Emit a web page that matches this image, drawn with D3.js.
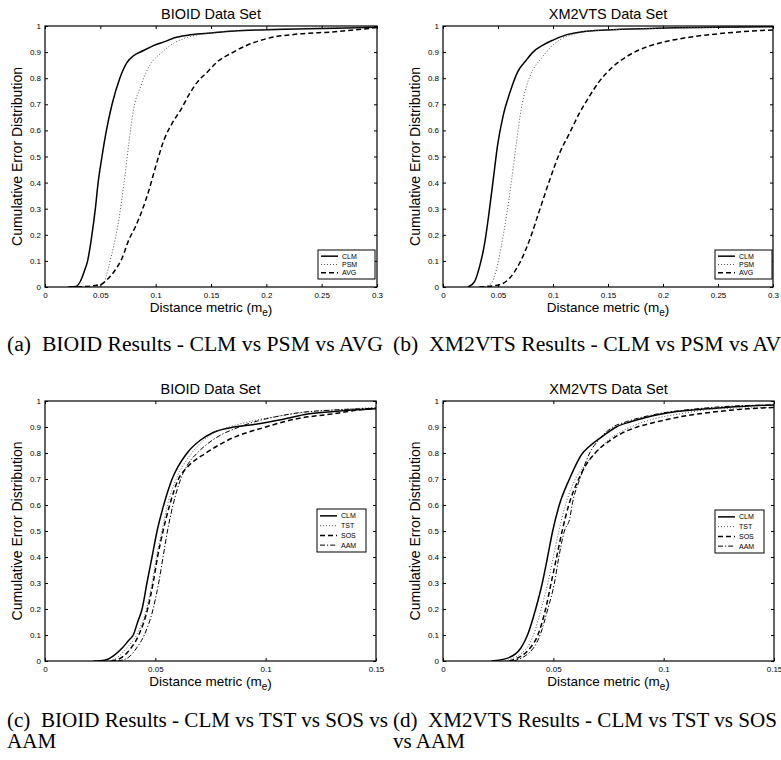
<!DOCTYPE html>
<html><head><meta charset="utf-8">
<script src="https://cdn.jsdelivr.net/npm/d3@7"></script>
<style>
body{margin:0;background:#fff;}
svg{display:block;}
</style></head>
<body>
<svg id="fig" width="781" height="760"></svg>
<script>
// ---------- data ----------
const yTicks = [0,0.1,0.2,0.3,0.4,0.5,0.6,0.7,0.8,0.9,1];
const yTickLabels = ["0","0.1","0.2","0.3","0.4","0.5","0.6","0.7","0.8","0.9","1"];
const xTicksWide = [0,0.05,0.1,0.15,0.2,0.25,0.3];
const xTickLabelsWide = ["0","0.05","0.1","0.15","0.2","0.25","0.3"];
const xTicksNarrow = [0,0.05,0.1,0.15];
const xTickLabelsNarrow = ["0","0.05","0.1","0.15"];
const titles = ["BIOID Data Set","XM2VTS Data Set","BIOID Data Set","XM2VTS Data Set"];
const captions = [
  ["(a)  BIOID Results - CLM vs PSM vs AVG"],
  ["(b)  XM2VTS Results - CLM vs PSM vs AVG"],
  ["(c)  BIOID Results - CLM vs TST vs SOS vs","AAM"],
  ["(d)  XM2VTS Results - CLM vs TST vs SOS","vs AAM"]
];

// panel (a) BIOID
const aCLM = [[0.021,0],[0.028,0.002],[0.032,0.022],[0.0355,0.06],[0.0385,0.1],[0.0424,0.2],[0.0455,0.3],[0.048,0.4],[0.0515,0.5],[0.0555,0.6],[0.0606,0.7],[0.0676,0.8],[0.074,0.86],[0.080,0.886],[0.089,0.906],[0.098,0.925],[0.108,0.94],[0.117,0.955],[0.129,0.965],[0.147,0.972],[0.171,0.981],[0.2015,0.986],[0.262,0.991],[0.3,0.995]];
const aPSM = [[0.047,0],[0.053,0.015],[0.0576,0.079],[0.062,0.156],[0.0667,0.258],[0.071,0.385],[0.0758,0.551],[0.080,0.679],[0.0864,0.768],[0.091,0.819],[0.097,0.864],[0.1045,0.895],[0.1136,0.927],[0.126,0.953],[0.141,0.968],[0.171,0.982],[0.232,0.991],[0.3,0.997]];
const aAVG = [[0.029,0],[0.05,0.009],[0.056,0.028],[0.0636,0.066],[0.0697,0.111],[0.0758,0.181],[0.0818,0.232],[0.088,0.296],[0.094,0.372],[0.1,0.462],[0.1076,0.564],[0.115,0.628],[0.1227,0.679],[0.13,0.736],[0.138,0.787],[0.147,0.825],[0.156,0.864],[0.168,0.895],[0.183,0.927],[0.2015,0.953],[0.226,0.968],[0.262,0.978],[0.3,0.994]];
// panel (b) XM2VTS
const bCLM = [[0.0227,0],[0.0288,0.022],[0.0333,0.079],[0.0379,0.168],[0.0418,0.283],[0.046,0.423],[0.0495,0.54],[0.0545,0.653],[0.0606,0.742],[0.068,0.825],[0.0758,0.87],[0.0818,0.9],[0.0909,0.927],[0.1,0.946],[0.112,0.966],[0.127,0.978],[0.148,0.985],[0.194,0.991],[0.3,0.997]];
const bPSM = [[0.0379,0],[0.044,0.015],[0.0485,0.066],[0.053,0.156],[0.0576,0.27],[0.062,0.398],[0.0667,0.551],[0.071,0.679],[0.0758,0.768],[0.0818,0.832],[0.0894,0.876],[0.097,0.915],[0.106,0.946],[0.118,0.968],[0.139,0.982],[0.194,0.991],[0.3,0.997]];
const bAVG = [[0.033,0],[0.0515,0.009],[0.0606,0.034],[0.0697,0.092],[0.0788,0.181],[0.0879,0.296],[0.097,0.41],[0.106,0.513],[0.115,0.589],[0.124,0.666],[0.133,0.73],[0.142,0.787],[0.1545,0.844],[0.167,0.883],[0.182,0.915],[0.2,0.938],[0.224,0.957],[0.2545,0.972],[0.3,0.985]];
// panel (c) BIOID
const cCLM = [[0.022,0],[0.027,0.003],[0.031,0.02],[0.035,0.05],[0.038,0.08],[0.040,0.1],[0.042,0.15],[0.044,0.2],[0.0462,0.3],[0.0485,0.4],[0.0508,0.5],[0.0538,0.6],[0.0576,0.7],[0.0644,0.8],[0.0705,0.85],[0.0765,0.88],[0.0856,0.9],[0.0947,0.91],[0.108,0.93],[0.119,0.95],[0.131,0.96],[0.15,0.97]];
const cTST = [[0.028,0],[0.033,0.015],[0.037,0.05],[0.0415,0.1],[0.046,0.2],[0.0485,0.3],[0.0505,0.4],[0.053,0.5],[0.0555,0.6],[0.0595,0.7],[0.0665,0.8],[0.072,0.85],[0.077,0.88],[0.0835,0.9],[0.095,0.925],[0.108,0.945],[0.12,0.958],[0.135,0.968],[0.15,0.975]];
const cSOS = [[0.03,0],[0.035,0.015],[0.039,0.05],[0.0425,0.1],[0.0465,0.2],[0.049,0.3],[0.051,0.4],[0.0535,0.5],[0.0565,0.6],[0.0605,0.7],[0.065,0.75],[0.073,0.8],[0.083,0.85],[0.1,0.9],[0.113,0.93],[0.13,0.95],[0.147,0.97],[0.15,0.972]];
const cAAM = [[0.033,0],[0.038,0.015],[0.0415,0.05],[0.045,0.1],[0.049,0.2],[0.0515,0.3],[0.0535,0.4],[0.0555,0.5],[0.058,0.6],[0.0615,0.7],[0.065,0.76],[0.069,0.8],[0.076,0.85],[0.088,0.9],[0.095,0.92],[0.105,0.94],[0.115,0.955],[0.13,0.965],[0.15,0.972]];
// panel (d) XM2VTS
const dCLM = [[0.022,0],[0.029,0.01],[0.0353,0.05],[0.0383,0.1],[0.042,0.2],[0.045,0.3],[0.0474,0.4],[0.0497,0.5],[0.0527,0.6],[0.0573,0.7],[0.0633,0.8],[0.0656,0.82],[0.0732,0.87],[0.0785,0.9],[0.085,0.92],[0.099,0.95],[0.12,0.97],[0.137,0.98],[0.15,0.985]];
const dTST = [[0.028,0],[0.038,0.05],[0.041,0.1],[0.0445,0.2],[0.0475,0.3],[0.05,0.4],[0.0525,0.5],[0.0555,0.6],[0.06,0.7],[0.065,0.76],[0.069,0.8],[0.075,0.85],[0.085,0.9],[0.095,0.93],[0.107,0.95],[0.125,0.97],[0.15,0.975]];
const dSOS = [[0.03,0],[0.0395,0.05],[0.043,0.1],[0.0465,0.2],[0.049,0.3],[0.0515,0.4],[0.054,0.5],[0.057,0.6],[0.0615,0.7],[0.0645,0.75],[0.069,0.8],[0.076,0.85],[0.082,0.88],[0.088,0.9],[0.097,0.92],[0.108,0.94],[0.125,0.96],[0.138,0.97],[0.15,0.975]];
const dAAM = [[0.032,0],[0.041,0.05],[0.044,0.1],[0.0475,0.2],[0.0505,0.3],[0.0525,0.4],[0.055,0.5],[0.0575,0.55],[0.0585,0.6],[0.062,0.7],[0.0665,0.8],[0.0705,0.85],[0.077,0.9],[0.083,0.92],[0.097,0.95],[0.115,0.97],[0.13,0.98],[0.15,0.985]];

// ---------- styles ----------
const styles = {
  CLM:{dash:null, w:1.5, c:"#000"},
  PSM:{dash:"1,2", w:1, c:"#555"},
  TST:{dash:"1,2", w:1, c:"#555"},
  AVG:{dash:"5,3", w:1.5, c:"#000"},
  SOS:{dash:"5,3", w:1.5, c:"#000"},
  AAM:{dash:"5,2,1.2,2", w:1, c:"#000"}
};

const panels = [
  {left:45, top:26, w:332, h:261, xmax:0.3, xt:xTicksWide, xl:xTickLabelsWide, title:titles[0],
   series:[["CLM",aCLM],["PSM",aPSM],["AVG",aAVG]], legend:{x:318,y:250,w:57,h:29}, cap:captions[0], capX:7, capY:351, capW:376},
  {left:443, top:26, w:330, h:261, xmax:0.3, xt:xTicksWide, xl:xTickLabelsWide, title:titles[1],
   series:[["CLM",bCLM],["PSM",bPSM],["AVG",bAVG]], legend:{x:715,y:250,w:57,h:29}, cap:captions[1], capX:393, capY:351, capRef:0},
  {left:45, top:401, w:331, h:260, xmax:0.15, xt:xTicksNarrow, xl:xTickLabelsNarrow, title:titles[2],
   series:[["CLM",cCLM],["TST",cTST],["SOS",cSOS],["AAM",cAAM]], legend:{x:317,y:509,w:49,h:43}, cap:captions[2], capX:7, capY:727, capW:381},
  {left:443, top:401, w:331, h:260, xmax:0.15, xt:xTicksNarrow, xl:xTickLabelsNarrow, title:titles[3],
   series:[["CLM",dCLM],["TST",dTST],["SOS",dSOS],["AAM",dAAM]], legend:{x:715,y:510,w:49,h:43}, cap:captions[3], capX:393, capY:727, capRef:2}
];

const svg = d3.select("#fig");
const sans = "'Liberation Sans', Arial, Helvetica, sans-serif";
const serif = "'Liberation Serif', 'Times New Roman', Times, serif";

function measure(t) {
  const probe = svg.append("text").attr("font-family", serif).attr("font-size", 20)
    .style("white-space", "pre").text(t);
  const w = probe.node().getComputedTextLength();
  probe.remove();
  return w;
}
// horizontal caption scale per row, from the fully visible left caption
const ratios = panels.map(p => p.capW ? p.capW / measure(p.cap[0]) : null);

panels.forEach((p, pi) => {
  const g = svg.append("g").attr("transform", `translate(${p.left},${p.top})`);
  const x = d3.scaleLinear().domain([0, p.xmax]).range([0, p.w]);
  const y = d3.scaleLinear().domain([0, 1]).range([p.h, 0]);

  const clipId = "clip" + pi;
  g.append("clipPath").attr("id", clipId).append("rect").attr("width", p.w).attr("height", p.h);

  const line = d3.line().x(d => x(d[0])).y(d => y(d[1])).curve(d3.curveMonotoneX);
  p.series.forEach(([name, data]) => {
    const s = styles[name];
    g.append("path").datum(data).attr("d", line).attr("fill", "none")
      .attr("stroke", s.c).attr("stroke-width", s.w)
      .attr("stroke-dasharray", s.dash).attr("clip-path", `url(#${clipId})`);
  });

  const fmtY = d => yTickLabels[yTicks.indexOf(d)];
  const fmtX = d => p.xl[p.xt.indexOf(d)];
  const axL = g.append("g").call(d3.axisLeft(y).tickValues(yTicks).tickFormat(fmtY).tickSize(-3).tickPadding(4));
  const axB = g.append("g").attr("transform", `translate(0,${p.h})`).call(d3.axisBottom(x).tickValues(p.xt).tickFormat(fmtX).tickSize(-3).tickPadding(5));
  const axR = g.append("g").attr("transform", `translate(${p.w},0)`).call(d3.axisRight(y).tickValues(yTicks).tickFormat("").tickSize(-3));
  const axT = g.append("g").call(d3.axisTop(x).tickValues(p.xt).tickFormat("").tickSize(-3));
  [axL, axB, axR, axT].forEach(a => {
    a.select(".domain").remove();
    a.selectAll("line").attr("stroke", "#000").attr("stroke-width", 1);
    a.selectAll("text").attr("font-family", sans).attr("font-size", 8).attr("fill", "#000");
  });
  axL.selectAll("text").attr("dy", "0.32em");

  g.append("rect").attr("width", p.w).attr("height", p.h).attr("fill", "none")
    .attr("stroke", "#000").attr("stroke-width", 1.2);

  g.append("text").attr("x", p.w / 2).attr("y", -7).attr("text-anchor", "middle")
    .attr("font-family", sans).attr("font-size", 14.5).text(p.title);

  g.append("text").attr("transform", `translate(-23,${p.h / 2}) rotate(-90)`)
    .attr("text-anchor", "middle").attr("font-family", sans).attr("font-size", 14)
    .text("Cumulative Error Distribution");

  const xl = g.append("text").attr("x", p.w / 2).attr("y", p.h + 25).attr("text-anchor", "middle")
    .attr("font-family", sans).attr("font-size", 13.5);
  xl.append("tspan").text("Distance metric (m");
  xl.append("tspan").attr("dy", 4).attr("font-size", 10).text("e");
  xl.append("tspan").attr("dy", -2).text(")");

  const L = p.legend;
  const lg = svg.append("g").attr("transform", `translate(${L.x},${L.y})`);
  lg.append("rect").attr("width", L.w).attr("height", L.h).attr("fill", "#fff")
    .attr("stroke", "#000").attr("stroke-width", 1);
  const n = p.series.length;
  const step = (L.h - 4) / n;
  p.series.forEach(([name], i) => {
    const s = styles[name];
    const yy = 2 + step * (i + 0.5);
    lg.append("line").attr("x1", 3).attr("x2", 20).attr("y1", yy).attr("y2", yy)
      .attr("stroke", s.c).attr("stroke-width", s.w).attr("stroke-dasharray", s.dash);
    lg.append("text").attr("x", 24).attr("y", yy).attr("dy", "0.35em")
      .attr("font-family", sans).attr("font-size", 7).text(name);
  });

  const ratio = p.capW ? ratios[pi] : ratios[p.capRef];
  p.cap.forEach((t, i) => {
    const tx = svg.append("text").attr("x", p.capX).attr("y", p.capY + i * 21)
      .attr("font-family", serif).attr("font-size", 20)
      .style("white-space", "pre").text(t);
    const w = tx.node().getComputedTextLength();
    tx.attr("textLength", w * ratio).attr("lengthAdjust", "spacingAndGlyphs");
  });
});
</script>
</body></html>
